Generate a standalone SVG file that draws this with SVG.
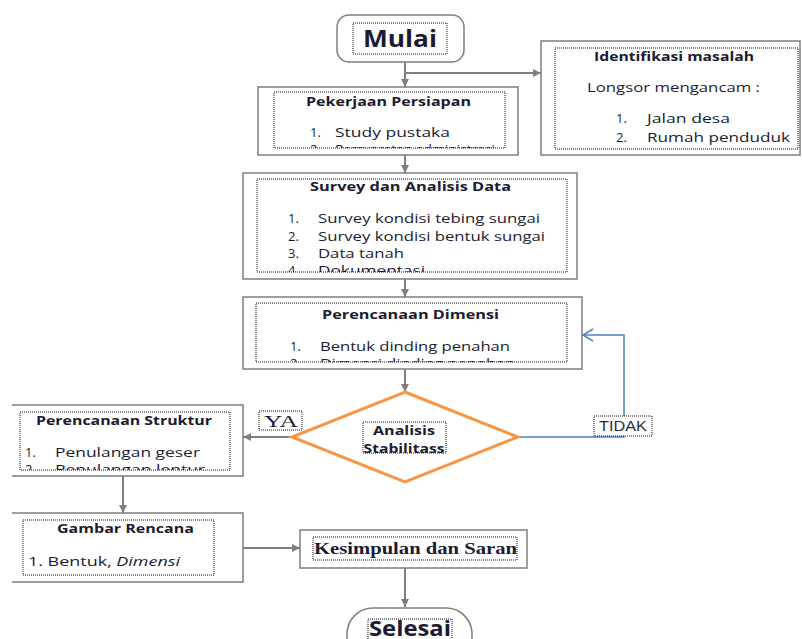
<svg xmlns="http://www.w3.org/2000/svg" width="802" height="639" viewBox="0 0 802 639">
<style>
.box{fill:#fff;stroke:#7f7f7f;stroke-width:1.5}
.dot{fill:none;stroke:#111;stroke-width:1;stroke-dasharray:1 1}
.dotw{fill:#fff;stroke:#111;stroke-width:1;stroke-dasharray:1 1}
.conn{stroke:#7f7f7f;stroke-width:2;fill:none;marker-end:url(#arr)}
.t{font-family:"Open Sans","Liberation Sans",sans-serif;font-size:13px;fill:#1b1b33}
.b{font-weight:bold}
.serif{font-family:"Liberation Serif","Times New Roman",serif;fill:#1b1b33}
</style>
<defs>
<marker id="arr" markerUnits="userSpaceOnUse" markerWidth="10" markerHeight="10" refX="9" refY="5" orient="auto">
<path d="M1,1 L9,5 L1,9 z" fill="#7f7f7f"/>
</marker>
<marker id="open" markerUnits="userSpaceOnUse" markerWidth="14" markerHeight="14" refX="12" refY="7" orient="auto">
<path d="M2,1 L12,7 L2,13" fill="none" stroke="#4f81bd" stroke-width="1.5"/>
</marker>
<clipPath id="c1"><rect x="274" y="92" width="231" height="56"/></clipPath>
<clipPath id="c2"><rect x="257" y="179" width="310" height="93"/></clipPath>
<clipPath id="c3"><rect x="256" y="303" width="311" height="59"/></clipPath>
<clipPath id="c4"><rect x="20" y="412" width="210" height="58"/></clipPath>
<clipPath id="c5"><rect x="363" y="422" width="83" height="31"/></clipPath>
</defs>

<g id="connectors">
<path class="conn" d="M405,62 V87"/>
<path class="conn" d="M405,73 H541"/>
<path class="conn" d="M405,155 V173"/>
<path class="conn" d="M405,279 V297"/>
<path class="conn" d="M405,369 V392"/>
<path class="conn" d="M292,437 H243"/>
<path class="conn" d="M123,476 V513"/>
<path class="conn" d="M243,548 H300"/>
<path class="conn" d="M405,568 V607"/>
<path d="M518,437 H624 V335 H583" fill="none" stroke="#4f81bd" stroke-width="1.5" marker-end="url(#open)"/>
</g>

<g id="mulai">
<rect x="337" y="15" width="127" height="47" rx="12" class="box"/>
<rect x="353" y="23" width="94" height="31" class="dot"/>
<text x="400" y="47" text-anchor="middle" class="t b" style="font-size:23px" textLength="74" lengthAdjust="spacingAndGlyphs">Mulai</text>
</g>

<g id="pekerjaan">
<rect x="258" y="87" width="260" height="68" class="box"/>
<rect x="274" y="92" width="231" height="56" class="dot"/>
<text x="306" y="106" class="t b" textLength="165" lengthAdjust="spacingAndGlyphs">Pekerjaan Persiapan</text>
<text x="310" y="137" class="t">1.</text>
<text x="335" y="137" class="t" textLength="115" lengthAdjust="spacingAndGlyphs">Study pustaka</text>
<g clip-path="url(#c1)"><text x="310" y="154" class="t">2.</text><text x="335" y="154" class="t" textLength="160" lengthAdjust="spacingAndGlyphs">Persyaratan administrasi</text></g>
</g>

<g id="identifikasi">
<rect x="541" y="41" width="259" height="114" class="box"/>
<rect x="555" y="48" width="243" height="101" class="dot"/>
<text x="594" y="61" class="t b" textLength="160" lengthAdjust="spacingAndGlyphs">Identifikasi masalah</text>
<text x="587" y="92" class="t" textLength="173" lengthAdjust="spacingAndGlyphs">Longsor mengancam :</text>
<text x="616" y="123" class="t">1.</text>
<text x="647" y="123" class="t" textLength="83" lengthAdjust="spacingAndGlyphs">Jalan desa</text>
<text x="616" y="142" class="t">2.</text>
<text x="647" y="142" class="t" textLength="143" lengthAdjust="spacingAndGlyphs">Rumah penduduk</text>
</g>

<g id="survey">
<rect x="243" y="173" width="334" height="106" class="box"/>
<rect x="257" y="179" width="310" height="93" class="dot"/>
<text x="310" y="191" class="t b" textLength="201" lengthAdjust="spacingAndGlyphs">Survey dan Analisis Data</text>
<text x="288" y="223" class="t">1.</text>
<text x="318" y="223" class="t" textLength="222" lengthAdjust="spacingAndGlyphs">Survey kondisi tebing sungai</text>
<text x="288" y="241" class="t">2.</text>
<text x="318" y="241" class="t" textLength="227" lengthAdjust="spacingAndGlyphs">Survey kondisi bentuk sungai</text>
<text x="288" y="258" class="t">3.</text>
<text x="318" y="258" class="t" textLength="86" lengthAdjust="spacingAndGlyphs">Data tanah</text>
<g clip-path="url(#c2)"><text x="288" y="275" class="t">4.</text><text x="318" y="275" class="t" textLength="107" lengthAdjust="spacingAndGlyphs">Dokumentasi</text></g>
</g>

<g id="dimensi">
<rect x="243" y="297" width="339" height="72" class="box"/>
<rect x="256" y="303" width="311" height="59" class="dot"/>
<text x="322" y="319" class="t b" textLength="177" lengthAdjust="spacingAndGlyphs">Perencanaan Dimensi</text>
<text x="290" y="351" class="t">1.</text>
<text x="320" y="351" class="t" textLength="190" lengthAdjust="spacingAndGlyphs">Bentuk dinding penahan</text>
<g clip-path="url(#c3)"><text x="290" y="368" class="t">2.</text><text x="320" y="368" class="t" textLength="195" lengthAdjust="spacingAndGlyphs">Dimensi dinding penahan</text></g>
</g>

<g id="analisis">
<polygon points="405,392 518,437 405,482 292,437" fill="#fff" stroke="#f79646" stroke-width="3"/>
<rect x="363" y="422" width="83" height="31" class="dotw"/>
<g clip-path="url(#c5)">
<text x="404" y="435" text-anchor="middle" class="t b" textLength="62" lengthAdjust="spacingAndGlyphs">Analisis</text>
<text x="404" y="453" text-anchor="middle" class="t b" textLength="81" lengthAdjust="spacingAndGlyphs">Stabilitass</text>
</g>
</g>

<g id="ya">
<rect x="259" y="411" width="43" height="19" class="dotw"/>
<text x="281" y="427" text-anchor="middle" class="serif" style="font-size:17px" textLength="34" lengthAdjust="spacingAndGlyphs">YA</text>
</g>

<g id="tidak">
<rect x="594" y="416" width="58" height="20" class="dotw"/>
<text x="623" y="431" text-anchor="middle" font-family="Liberation Sans, Arial, sans-serif" font-size="14" fill="#2a2a44" textLength="48" lengthAdjust="spacingAndGlyphs">TIDAK</text>
</g>

<g id="struktur">
<rect x="0" y="405" width="243" height="71" fill="#fff"/>
<path d="M12,405 H243 V476 H12" fill="none" stroke="#7f7f7f" stroke-width="1.5"/>
<rect x="20" y="412" width="210" height="58" class="dot"/>
<text x="36" y="425" class="t b" textLength="176" lengthAdjust="spacingAndGlyphs">Perencanaan Struktur</text>
<text x="25" y="457" class="t">1.</text>
<text x="55" y="457" class="t" textLength="145" lengthAdjust="spacingAndGlyphs">Penulangan geser</text>
<g clip-path="url(#c4)"><text x="25" y="474" class="t">2.</text><text x="55" y="474" class="t" textLength="150" lengthAdjust="spacingAndGlyphs">Penulangan lentur</text></g>
</g>

<g id="gambar">
<rect x="0" y="513" width="243" height="69" fill="#fff"/>
<path d="M12,513 H243 V582 H12" fill="none" stroke="#7f7f7f" stroke-width="1.5"/>
<rect x="23" y="520" width="191" height="55" class="dot"/>
<text x="57" y="533" class="t b" textLength="137" lengthAdjust="spacingAndGlyphs">Gambar Rencana</text>
<text x="28" y="566" class="t" textLength="152" lengthAdjust="spacingAndGlyphs">1. Bentuk, <tspan font-style="italic">Dimensi</tspan></text>
</g>

<g id="kesimpulan">
<rect x="300" y="530" width="227" height="38" class="box"/>
<rect x="313" y="537" width="204" height="23" class="dot"/>
<text x="314" y="554" class="serif" style="font-size:17px;font-weight:bold" textLength="203" lengthAdjust="spacingAndGlyphs">Kesimpulan dan Saran</text>
</g>

<g id="selesai">
<rect x="347" y="608" width="125" height="60" rx="26" class="box"/>
<rect x="368" y="619" width="84" height="25" class="dot"/>
<text x="410" y="636" text-anchor="middle" class="t b" style="font-size:21px" textLength="82" lengthAdjust="spacingAndGlyphs">Selesai</text>
</g>
</svg>
